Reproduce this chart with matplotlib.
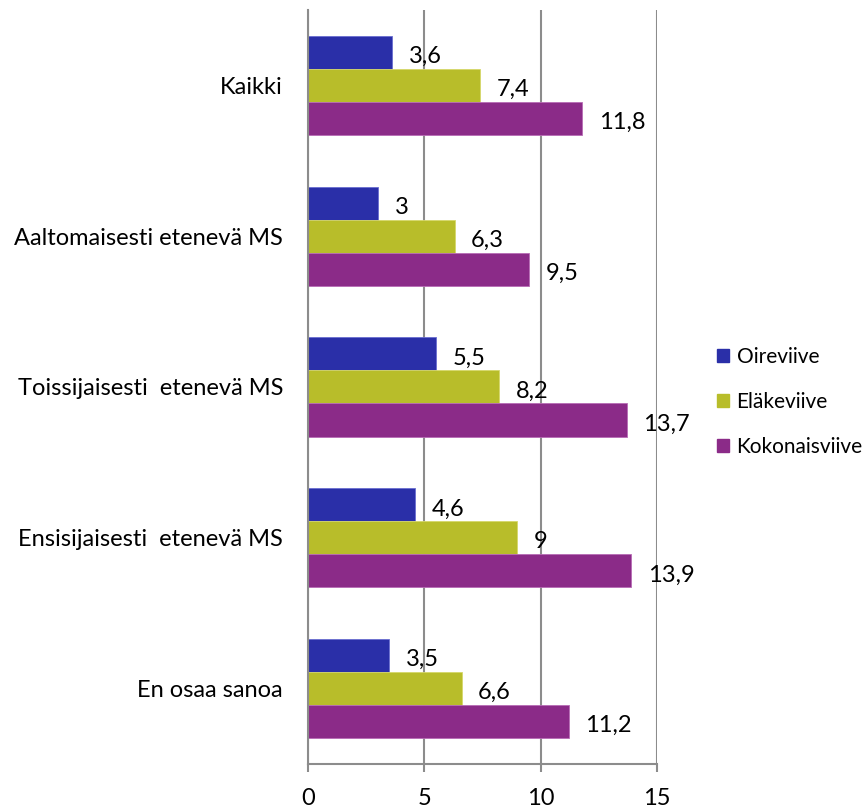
import numpy as np
import matplotlib.pyplot as plt
from matplotlib.patches import Patch

plt.rcParams['font.family'] = ['Lato', 'DejaVu Sans']

categories = ["Kaikki", "Aaltomaisesti etenevä MS", "Toissijaisesti  etenevä MS",
              "Ensisijaisesti  etenevä MS", "En osaa sanoa"]
series = ["Oireviive", "Eläkeviive", "Kokonaisviive"]
oireviive = [3.6, 3.0, 5.5, 4.6, 3.5]
elakeviive = [7.4, 6.3, 8.2, 9.0, 6.6]
kokonaisviive = [11.8, 9.5, 13.7, 13.9, 11.2]
colors = ["#2a2fa8", "#b8bd2a", "#8b2b88"]
edges = ["#6a6ed0", "#d6d86a", "#b86cb5"]

fig = plt.figure(figsize=(8.67, 8.10), dpi=100)
ax = fig.add_axes([0.3553, 0.0568, 0.4024, 0.9309])

y = np.arange(len(categories))
h = 0.219
for i, vals in enumerate([oireviive, elakeviive, kokonaisviive]):
    bars = ax.barh(y + (i - 1) * h, vals, height=h, color=colors[i],
                   edgecolor=edges[i], linewidth=0.6, zorder=2)
    for b, v in zip(bars, vals):
        txt = f"{v:g}".replace(".", ",")
        ax.annotate(txt, (v, b.get_y() + b.get_height() / 2),
                    xytext=(12, -3), textcoords="offset points",
                    ha="left", va="center", fontsize=17, zorder=4)

ax.set_xlim(0, 15)
ax.set_ylim(len(categories) - 0.5, -0.5)
ax.set_xticks([0, 5, 10, 15])
ax.set_yticks(y)
ax.set_yticklabels(categories, fontsize=17)
ax.tick_params(axis="y", length=0, pad=18)
ax.tick_params(axis="x", length=6, width=1.5, color="#8c8c8c", pad=11,
               labelsize=17)
ax.xaxis.grid(True, color="#8c8c8c", linewidth=1.5, zorder=1)
ax.set_axisbelow(True)
for side in ["top", "right"]:
    ax.spines[side].set_visible(False)
for side in ["left", "bottom"]:
    ax.spines[side].set_color("#8c8c8c")
    ax.spines[side].set_linewidth(1.5)
    ax.spines[side].set_zorder(3)

handles = [Patch(facecolor=c, edgecolor=c) for c in colors]
fig.legend(handles, series, loc="center left",
           bbox_to_anchor=(698 / 867, 1 - 402 / 810), frameon=False,
           fontsize=15, handlelength=0.6, handleheight=0.6,
           handletextpad=0.35, labelspacing=1.2)

fig.savefig("out.png", dpi=100)
